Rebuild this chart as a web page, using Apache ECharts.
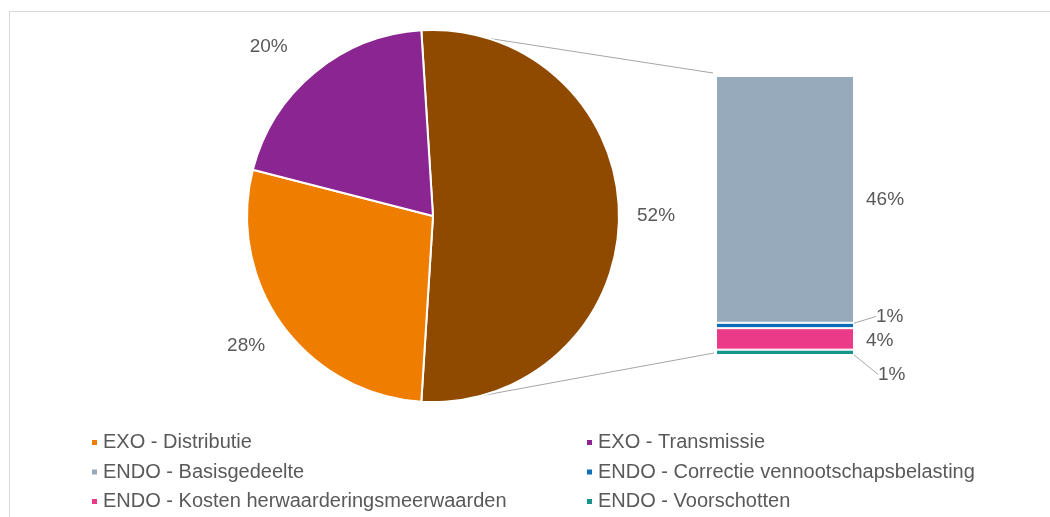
<!DOCTYPE html>
<html>
<head>
<meta charset="utf-8">
<script src="https://cdn.jsdelivr.net/npm/echarts@6/dist/echarts.min.js"></script>
<style>
  body { margin: 0; overflow: hidden; background: #fff; }
  #frame { position: absolute; left: 9px; top: 11px; width: 1100px; height: 600px; border: 1px solid #d9d9d9; }
  #main { position: absolute; left: 0; top: 0; width: 1050px; height: 517px; }
</style>
</head>
<body>
<div id="frame"></div>
<div id="main"></div>
<script>
// pie part
var pieNames = ['EXO - Distributie', 'EXO - Transmissie'];
var pieValues = [28, 20];
var pieColors = ['#ef7d00', '#8a2592'];
// split-off part (shown as stacked bar), top to bottom
var barNames = ['ENDO - Basisgedeelte', 'ENDO - Correctie vennootschapsbelasting', 'ENDO - Kosten herwaarderingsmeerwaarden', 'ENDO - Voorschotten'];
var barValues = [46, 1, 4, 1];
var barColors = ['#96aabb', '#0e6db8', '#eb3a87', '#17958a'];
var otherColor = '#904a00';

var txt = '#595959';
var font = "'Liberation Sans', Arial, sans-serif";

var otherTotal = 0;
for (var i = 0; i < barValues.length; i++) otherTotal += barValues[i];

var pieData = [{
  name: 'ENDO', value: otherTotal,
  itemStyle: { color: otherColor },
  labelLine: { length: 13 }
}, {
  name: pieNames[0], value: pieValues[0],
  itemStyle: { color: pieColors[0] },
  labelLine: { length: 24 }
}, {
  name: pieNames[1], value: pieValues[1],
  itemStyle: { color: pieColors[1] },
  labelLine: { length: 34 }
}];
// small nudges for the pie labels
var pieLabelMove = [{ dx: 0, dy: 0 }, { dx: 3.5, dy: 3 }, { dx: 0, dy: 0 }];

// label tweaks for the stacked bar (small pieces get a leader line)
var barLabelMove = [null, { dx: 20, dy: -9 }, { dx: 0, dy: 2 }, { dx: 22, dy: 22 }];
var barLabelLine = [false, true, false, true];

var series = [{
  type: 'pie',
  center: [433, 216],
  radius: 186,
  // split slice centred on the right side
  startAngle: otherTotal / 100 * 360 / 2,
  clockwise: true,
  itemStyle: { borderColor: '#fff', borderWidth: 2 },
  label: {
    show: true, position: 'outside', formatter: '{d}%',
    color: txt, fontSize: 19, fontFamily: font
  },
  labelLine: { show: false, length2: 0 },
  labelLayout: function (p) { return pieLabelMove[p.dataIndex]; },
  emphasis: { disabled: true },
  data: pieData
}];

for (var j = barNames.length - 1; j >= 0; j--) {
  var s = {
    type: 'bar',
    name: barNames[j],
    stack: 'endo',
    barWidth: '100%',
    itemStyle: { color: barColors[j], borderColor: '#fff', borderWidth: 1 },
    label: {
      show: true, position: 'right', distance: 12, formatter: '{c}%',
      color: txt, fontSize: 19, fontFamily: font
    },
    emphasis: { disabled: true },
    data: [barValues[j]]
  };
  if (barLabelMove[j]) s.labelLayout = barLabelMove[j];
  if (barLabelLine[j]) {
    s.labelLine = { show: true, lineStyle: { color: '#a6a6a6', width: 1 } };
    s.label.distance = 2;
  }
  series.push(s);
}

var legendText = { color: txt, fontSize: 20, fontFamily: font, lineHeight: 21 };

var option = {
  animation: false,
  grid: { left: 716, top: 76, width: 138, height: 279 },
  xAxis: { type: 'category', data: ['ENDO'], show: false },
  yAxis: { type: 'value', min: 0, max: otherTotal, show: false },
  color: [otherColor].concat(pieColors),
  legend: [{
    left: 85, top: 427, orient: 'vertical', itemGap: 8.5,
    icon: 'rect', itemWidth: 7, itemHeight: 7,
    textStyle: legendText,
    data: [pieNames[0], barNames[0], barNames[2]]
  }, {
    left: 580, top: 427, orient: 'vertical', itemGap: 8.5,
    icon: 'rect', itemWidth: 7, itemHeight: 7,
    textStyle: legendText,
    data: [pieNames[1], barNames[1], barNames[3]]
  }],
  series: series
};

var myChart = echarts.init(document.getElementById('main'));
myChart.setOption(option);

// connector lines from the split slice to the bar
function drawConnectors() {
  var cx = 433, cy = 216, r = 186;
  var topPt = myChart.convertToPixel({ gridIndex: 0 }, [0, otherTotal]);
  var botPt = myChart.convertToPixel({ gridIndex: 0 }, [0, 0]);
  var barLeft = 716;
  var a1 = 17 * Math.PI / 180, a2 = 14.5 * Math.PI / 180;
  myChart.setOption({
    graphic: [{
      type: 'line', silent: true,
      shape: { x1: cx + r * Math.sin(a1), y1: cy - r * Math.cos(a1), x2: barLeft - 3, y2: topPt[1] - 3 },
      style: { stroke: '#a6a6a6', lineWidth: 1 }
    }, {
      type: 'line', silent: true,
      shape: { x1: cx + r * Math.sin(a2), y1: cy + r * Math.cos(a2), x2: barLeft - 2, y2: botPt[1] - 2 },
      style: { stroke: '#a6a6a6', lineWidth: 1 }
    }]
  });
}
drawConnectors();
</script>
</body>
</html>
